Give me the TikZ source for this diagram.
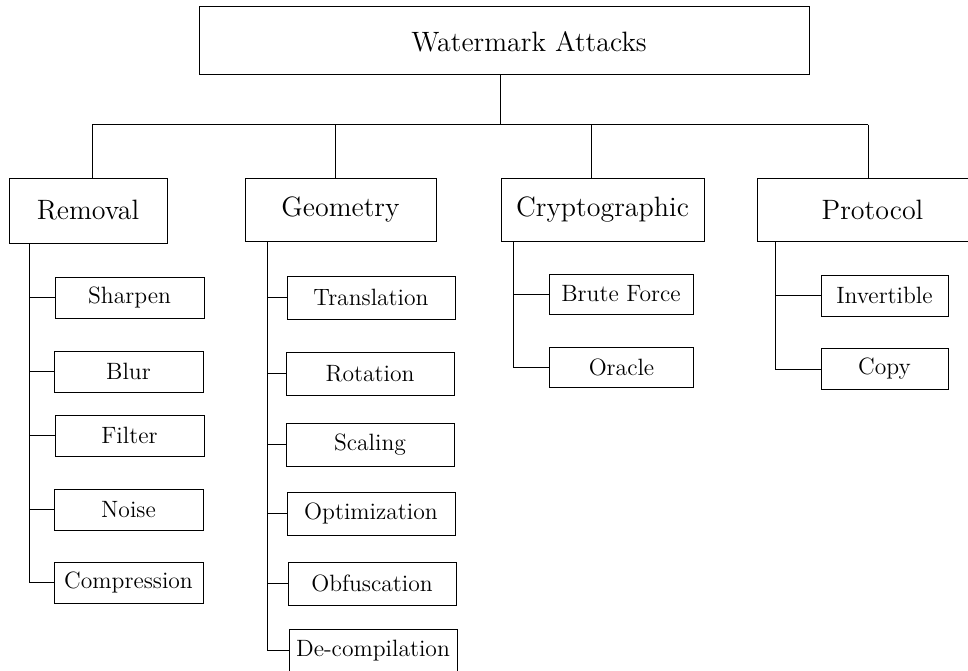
\documentclass[tikz,border=0pt]{standalone}
\begin{document}
\begin{tikzpicture}[x=0.5pt,y=-0.5pt,
  every node/.style={inner sep=0pt,outer sep=0pt},
  box/.style={draw,line width=0.5pt,rectangle},
  lvlfont/.style={font=\fontsize{14pt}{16pt}\selectfont},
  kidfont/.style={font=\fontsize{11.8pt}{14pt}\selectfont},
  lvl/.style={box,lvlfont,minimum height=31.5pt},
  rkid/.style={box,kidfont,minimum width=74.5pt,minimum height=20.5pt},
  gkid/.style={box,kidfont,minimum width=84pt,minimum height=21.5pt},
  ckid/.style={box,kidfont,minimum width=72pt,minimum height=20pt},
  pkid/.style={box,kidfont,minimum width=63.5pt,minimum height=20.5pt},
  link/.style={line width=0.5pt}]
\clip (0,0) rectangle (968,670);

% root
\node[box,minimum width=305pt,minimum height=34pt,
      label={[lvlfont,xshift=12.5pt,yshift=-1pt]center:Watermark Attacks}] (top) at (504,40) {};

% attack families
\node[lvl,minimum width=79pt,minimum height=32.5pt] (removal) at (88,210.5) {Removal};
\node[lvl,minimum width=95.5pt] (geometry) at (340.5,209.5) {Geometry};
\node[lvl,minimum width=101.5pt] (crypto) at (602.5,209.5) {Cryptographic};
\node[lvl,minimum width=115.5pt] (protocol) at (872.5,209.5) {Protocol};

% removal attacks
\node[rkid] (sharpen) at (129.5,297.5) {Sharpen};
\node[rkid] (blur) at (128.5,371.5) {Blur};
\node[rkid] (filter) at (129.5,435.5) {Filter};
\node[rkid] (noise) at (128.5,509.5) {Noise};
\node[rkid] (compression) at (128.5,582.5) {Compression};

% geometry attacks
\node[gkid] (translation) at (371,297.5) {Translation};
\node[gkid] (rotation) at (370,373.5) {Rotation};
\node[gkid] (scaling) at (370,444.5) {Scaling};
\node[gkid] (optimization) at (371,513.5) {Optimization};
\node[gkid] (obfuscation) at (372,583.5) {Obfuscation};
\node[gkid] (decompilation) at (373,650.5) {De-compilation};

% cryptographic attacks
\node[ckid] (brute) at (621,294) {Brute Force};
\node[ckid] (oracle) at (621.5,367) {Oracle};

% protocol attacks
\node[pkid] (invertible) at (884.5,295.5) {Invertible};
\node[pkid] (copy) at (884.5,369) {Copy};

% bus from the root to the families
\coordinate (bus) at (500,124.5);
\coordinate (dR) at (92,124.5);
\coordinate (dG) at (335,124.5);
\coordinate (dC) at (591,124.5);
\coordinate (dP) at (868,124.5);
\draw[link] (top.south -| bus) -- (bus);
\draw[link] (dR) -- (dP);
\draw[link] (dR) -- (dR |- removal.north);
\draw[link] (dG) -- (dG |- geometry.north);
\draw[link] (dC) -- (dC |- crypto.north);
\draw[link] (dP) -- (dP |- protocol.north);

% spines under each family
\coordinate (sR) at (29,0);
\coordinate (sG) at (267,0);
\coordinate (sC) at (513,0);
\coordinate (sP) at (775,0);

\draw[link] (sR |- removal.south) |- (compression.west);
\foreach \k in {sharpen,blur,filter,noise}
  \draw[link] (sR |- \k.west) -- (\k.west);

\draw[link] (sG |- geometry.south) |- (decompilation.west);
\foreach \k in {translation,rotation,scaling,optimization,obfuscation}
  \draw[link] (sG |- \k.west) -- (\k.west);

\draw[link] (sC |- crypto.south) |- (oracle.west);
\draw[link] (sC |- brute.west) -- (brute.west);

\draw[link] (sP |- protocol.south) |- (copy.west);
\draw[link] (sP |- invertible.west) -- (invertible.west);
\end{tikzpicture}
\end{document}
